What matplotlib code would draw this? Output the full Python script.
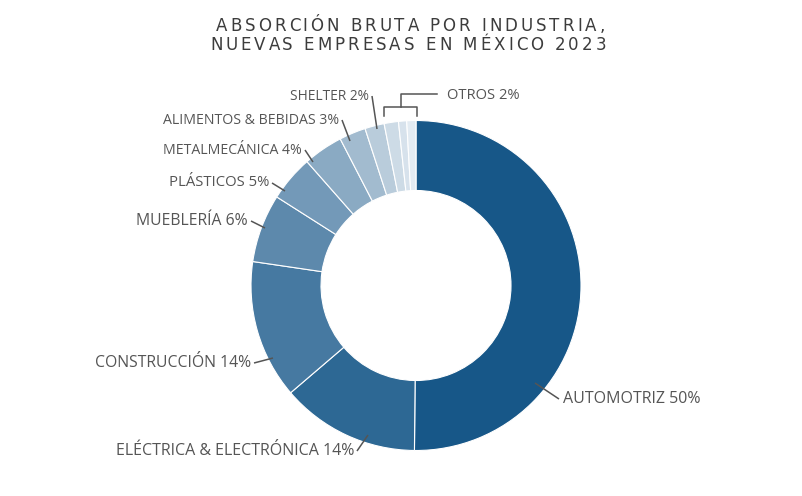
import matplotlib.pyplot as plt

# slices clockwise from the top; the last three make up "OTROS"
industrias = ["AUTOMOTRIZ", "ELÉCTRICA & ELECTRÓNICA", "CONSTRUCCIÓN", "MUEBLERÍA",
              "PLÁSTICOS", "METALMECÁNICA", "ALIMENTOS & BEBIDAS", "SHELTER",
              "OTROS a", "OTROS b", "OTROS c"]
valores = [50.2, 13.6, 13.6, 6.7, 4.5, 3.9, 2.6, 1.9, 1.4, 0.8, 0.9]
etiquetas = ["AUTOMOTRIZ 50%", "ELÉCTRICA & ELECTRÓNICA 14%", "CONSTRUCCIÓN 14%",
             "MUEBLERÍA 6%", "PLÁSTICOS 5%", "METALMECÁNICA 4%",
             "ALIMENTOS & BEBIDAS 3%", "SHELTER 2%"]
etiqueta_otros = "OTROS 2%"
titulo = ["ABSORCIÓN BRUTA POR INDUSTRIA,", "NUEVAS EMPRESAS EN MÉXICO 2023"]

colores = ["#175788", "#2d6894", "#4679a1", "#5d89ac", "#7399b8", "#8aaac3",
           "#a2bbcf", "#b9ccdb", "#cddbe6", "#d7e2ec", "#e3ebf2"]

W, H = 803, 496


def px(x, y):
    # pixel position (top-left origin) -> data coords
    return x, H - y


fig = plt.figure(figsize=(W / 100, H / 100), dpi=100)
ax = fig.add_axes([0, 0, 1, 1])

cx, cy = px(416, 285.5)
R = 165
ax.pie(valores, colors=colores, startangle=90, counterclock=False,
       center=(cx, cy), radius=R, frame=True,
       wedgeprops=dict(width=70, edgecolor="white", linewidth=0.8))
ax.set_xlim(0, W)
ax.set_ylim(0, H)
ax.set_aspect("equal")
ax.axis("off")

# label layout: (start of connector on slice, end of connector, text side, font size)
layout = [
    ((535, 383), (559, 399), "left", 11.5),
    ((368, 435), (357, 451), "right", 11.5),
    ((273, 358), (254, 363), "right", 11.3),
    ((265, 228), (251, 221), "right", 11.3),
    ((285, 191), (272, 183), "right", 10.7),
    ((313, 162), (305, 150), "right", 10.2),
    ((350, 141), (342, 120), "right", 10.2),
    ((377, 129), (372, 96), "right", 9.9),
]
gris = "#555555"
for txt, (p0, p1, side, fs) in zip(etiquetas, layout):
    x0, y0 = px(*p0)
    x1, y1 = px(*p1)
    ax.plot([x0, x1], [y0, y1], color=gris, lw=1.1, solid_capstyle="butt")
    dx = 4 if side == "left" else -3
    ax.text(x1 + dx, y1, txt, ha=side, va="center", fontsize=fs,
            color=gris, family="Open Sans")

# bracket for the OTROS slices
bx = [px(384, 116), px(384, 107), px(417, 107), px(417, 116)]
ax.plot([p[0] for p in bx], [p[1] for p in bx], color=gris, lw=1.1)
ox = [px(401, 107), px(401, 94), px(437, 94)]
ax.plot([p[0] for p in ox], [p[1] for p in ox], color=gris, lw=1.1)
tx, ty = px(447, 95)
ax.text(tx, ty, etiqueta_otros, ha="left", va="center", fontsize=10.6,
        color=gris, family="Open Sans")

# letter-spaced title, placed one character at a time
renderer = fig.canvas.get_renderer()
tstyle = dict(fontsize=12, color="#3c3c3c", family="DejaVu Sans",
              fontweight="normal")


def ancho(s):
    t = ax.text(0, 0, s + "|", **tstyle)
    w = t.get_window_extent(renderer).width
    t.remove()
    return w - bar_w


t = ax.text(0, 0, "|", **tstyle)
bar_w = t.get_window_extent(renderer).width
t.remove()

for linea, (xl, xr, yb) in zip(titulo, [(216, 605, 31), (210, 606, 50)]):
    total = ancho(linea)
    sp = ((xr - xl) - total) / (len(linea) - 1)
    for i, ch in enumerate(linea):
        x = xl + ancho(linea[:i]) + i * sp if i else xl
        ax.text(*px(x, yb), ch, ha="left", va="baseline", **tstyle)

fig.savefig("out.png", dpi=100, facecolor="white")
